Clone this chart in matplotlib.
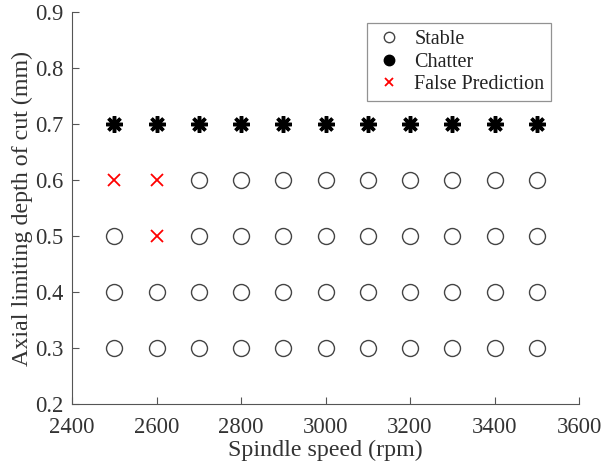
import matplotlib
matplotlib.use("Agg")
import matplotlib.pyplot as plt
from matplotlib.lines import Line2D

plt.rcParams['font.family'] = ['Liberation Serif', 'DejaVu Serif']

stable_speed = [2500, 2600, 2700, 2800, 2900, 3000, 3100, 3200, 3300, 3400, 3500,
                2500, 2700, 2800, 2900, 3000, 3100, 3200, 3300, 3400, 3500,
                2700, 2800, 2900, 3000, 3100, 3200, 3300, 3400, 3500,
                2500, 2600, 2700, 2800, 2900, 3000, 3100, 3200, 3300, 3400, 3500]
stable_depth = [0.3]*11 + [0.5]*10 + [0.6]*9 + [0.4]*11
chatter_speed = [2500, 2600, 2700, 2800, 2900, 3000, 3100, 3200, 3300, 3400, 3500]
chatter_depth = [0.7]*11
false_speed = [2500, 2600, 2600]
false_depth = [0.6, 0.6, 0.5]

fig = plt.figure(figsize=(6.01, 4.67), dpi=100)
ax = fig.add_axes([0.1198, 0.1349, 0.8436, 0.8394])

ax.plot(stable_speed, stable_depth, linestyle='none', marker='o', markersize=11.5,
        markerfacecolor='none', markeredgecolor='#444444', markeredgewidth=1.0)
ax.plot(chatter_speed, chatter_depth, linestyle='none', marker=(8, 2, 0), markersize=12,
        markeredgecolor='black', markeredgewidth=2.5, color='black')
ax.plot(false_speed, false_depth, linestyle='none', marker='x', markersize=8.5,
        markeredgecolor='red', markeredgewidth=1.3)

ax.set_xlim(2400, 3600)
ax.set_ylim(0.2, 0.9)
ax.set_xticks([2400, 2600, 2800, 3000, 3200, 3400, 3600])
ax.set_yticks([0.2, 0.3, 0.4, 0.5, 0.6, 0.7, 0.8, 0.9])
ax.set_yticklabels(['0.2', '0.3', '0.4', '0.5', '0.6', '0.7', '0.8', '0.9'])
ax.spines['top'].set_visible(False)
ax.spines['right'].set_visible(False)
for s in ['left', 'bottom']:
    ax.spines[s].set_color('#555555')
    ax.spines[s].set_linewidth(0.8)
ax.tick_params(direction='in', length=5, width=0.8, color='#555555',
               labelsize=16.3, labelcolor='#333333')
ax.tick_params(axis='x', pad=9)
ax.tick_params(axis='y', pad=6)

ax.set_xlabel('Spindle speed (rpm)', fontsize=17.3, color='#333333', labelpad=2)
ax.set_ylabel('Axial limiting depth of cut (mm)', fontsize=17.3, color='#333333', labelpad=2)

handles = [
    Line2D([], [], linestyle='none', marker='o', markersize=7.5, markerfacecolor='none',
           markeredgecolor='#444444', markeredgewidth=1.0),
    Line2D([], [], linestyle='none', marker='o', markersize=7.5, markerfacecolor='black',
           markeredgecolor='black'),
    Line2D([], [], linestyle='none', marker='x', markersize=6, markeredgecolor='red',
           markeredgewidth=1.3),
]
leg = ax.legend(handles, ['Stable', 'Chatter', 'False Prediction'], loc='upper right',
                bbox_to_anchor=(0.9455, 0.972), fontsize=14.5, frameon=True, fancybox=False,
                edgecolor='#777777', handletextpad=0.5, borderpad=0.35, labelspacing=0.17,
                handlelength=1.5, borderaxespad=0)
leg.get_frame().set_linewidth(0.9)
for t in leg.get_texts():
    t.set_color('#222222')

fig.savefig('out.png', dpi=100)
